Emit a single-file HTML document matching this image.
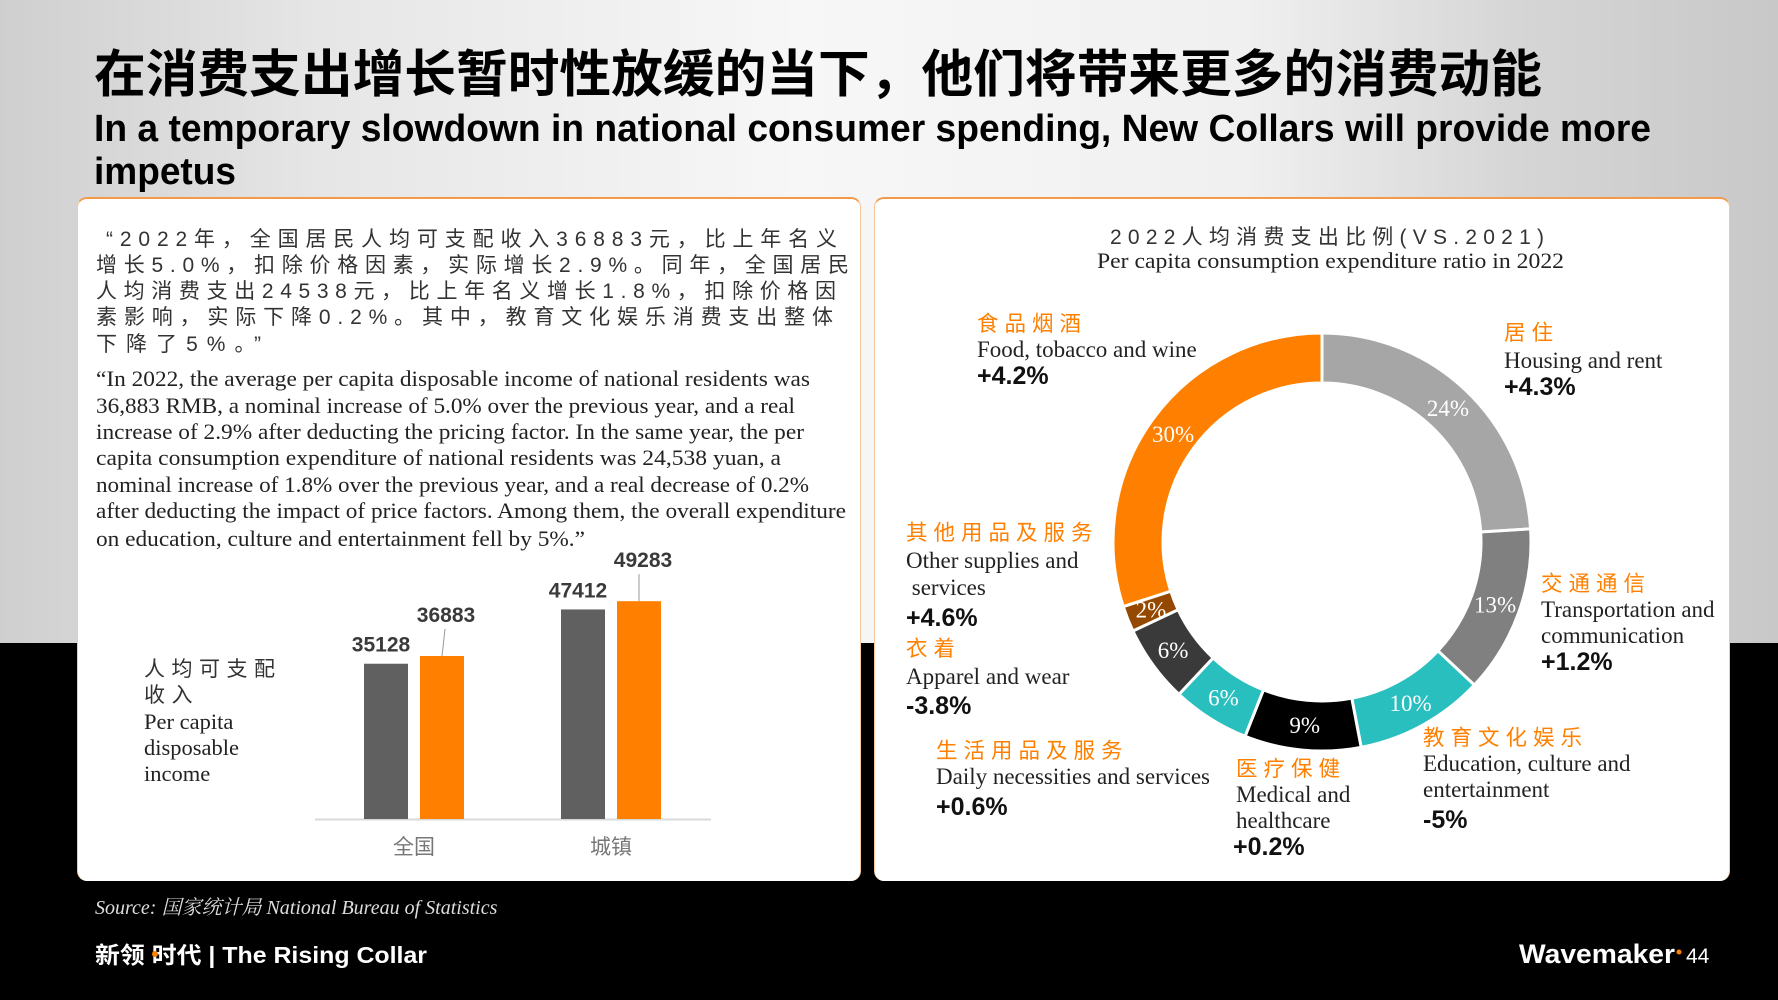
<!DOCTYPE html>
<html><head><meta charset="utf-8"><style>
*{margin:0;padding:0;box-sizing:border-box}
body{width:1778px;height:1000px;overflow:hidden;position:relative;background:#000;font-family:"Liberation Sans","Noto Sans CJK SC",sans-serif}
.abs{position:absolute;white-space:nowrap}
#bgtop{position:absolute;left:0;top:0;width:1778px;height:643px;background:linear-gradient(90deg,#cfcfcf 0%,#e6e6e6 18%,#f7f7f7 45%,#f0f0f0 70%,#d6d6d6 85%,#c8c8c8 100%)}
.card{position:absolute;background:#fff;border-radius:10px;border-top:2px solid #f39a4a;border-left:1px solid #f5c9a0;border-right:1px solid #f5c9a0}
.cn{font-family:"Liberation Sans","Noto Sans CJK SC",sans-serif}
.serif{font-family:"Liberation Serif","Noto Serif CJK SC",serif}
.or{color:#ff8000;font-size:21.5px;letter-spacing:6px}
.en{color:#222;font-size:23px}
.pct{color:#111;font-size:25px;font-weight:bold}
</style></head><body>
<div id="bgtop"></div>

<svg class="abs" style="left:0;top:0" width="1778" height="1000">
<text x="94" y="92" font-size="51" font-weight="bold" fill="#000" font-family="Liberation Sans, Noto Sans CJK SC, sans-serif" textLength="1448" lengthAdjust="spacingAndGlyphs">在消费支出增长暂时性放缓的当下，他们将带来更多的消费动能</text>
<g font-size="38" font-weight="bold" fill="#000" font-family="Liberation Sans, sans-serif">
<text x="94" y="141" textLength="1557" lengthAdjust="spacingAndGlyphs">In a temporary slowdown in national consumer spending, New Collars will provide more</text>
<text x="94" y="184" textLength="142" lengthAdjust="spacingAndGlyphs">impetus</text>
</g>
</svg>

<div class="card" style="left:77px;top:197px;width:784px;height:684px"></div>
<div class="card" style="left:874px;top:197px;width:856px;height:684px"></div>

<svg class="abs" style="left:0;top:0" width="1778" height="1000">
<g font-size="21" fill="#333" font-family="Liberation Sans, Noto Sans CJK SC, sans-serif">
<text x="106" y="246" textLength="731" lengthAdjust="spacing">“2022年，全国居民人均可支配收入36883元，比上年名义</text>
<text x="96" y="272" textLength="753" lengthAdjust="spacing">增长5.0%，扣除价格因素，实际增长2.9%。同年，全国居民</text>
<text x="96" y="298" textLength="740" lengthAdjust="spacing">人均消费支出24538元，比上年名义增长1.8%，扣除价格因</text>
<text x="96" y="324" textLength="737" lengthAdjust="spacing">素影响，实际下降0.2%。其中，教育文化娱乐消费支出整体</text>
<text x="96" y="351" textLength="165" lengthAdjust="spacing">下降了5%。”</text>
</g>
<g font-size="22.5" fill="#222" font-family="Liberation Serif, serif">
<text x="96" y="386" textLength="714" lengthAdjust="spacingAndGlyphs">“In 2022, the average per capita disposable income of national residents was</text>
<text x="96" y="413" textLength="699" lengthAdjust="spacingAndGlyphs">36,883 RMB, a nominal increase of 5.0% over the previous year, and a real</text>
<text x="96" y="439" textLength="708" lengthAdjust="spacingAndGlyphs">increase of 2.9% after deducting the pricing factor. In the same year, the per</text>
<text x="96" y="465" textLength="685" lengthAdjust="spacingAndGlyphs">capita consumption expenditure of national residents was 24,538 yuan, a</text>
<text x="96" y="492" textLength="713" lengthAdjust="spacingAndGlyphs">nominal increase of 1.8% over the previous year, and a real decrease of 0.2%</text>
<text x="96" y="518" textLength="750" lengthAdjust="spacingAndGlyphs">after deducting the impact of price factors. Among them, the overall expenditure</text>
<text x="96" y="546" textLength="489" lengthAdjust="spacingAndGlyphs">on education, culture and entertainment fell by 5%.”</text>
</g>
<text x="1110" y="244" font-size="21" fill="#333" font-family="Liberation Sans, Noto Sans CJK SC, sans-serif" textLength="434" lengthAdjust="spacing">2022人均消费支出比例(VS.2021)</text>
<text x="1097" y="268" font-size="22.5" fill="#222" font-family="Liberation Serif, serif" textLength="467" lengthAdjust="spacingAndGlyphs">Per capita consumption expenditure ratio in 2022</text>
<text x="95" y="914" font-size="20" font-style="italic" fill="#ddd" font-family="Liberation Serif, Noto Serif CJK SC, serif">Source: 国家统计局  National Bureau of Statistics</text>
<text x="95" y="963" font-size="23" font-weight="bold" fill="#fff" font-family="Liberation Sans, Noto Sans CJK SC, sans-serif" textLength="332" lengthAdjust="spacingAndGlyphs">新领 时代  | The Rising Collar</text>
<circle cx="155" cy="954" r="3" fill="#ff8000"/>
<text x="1519" y="963" font-size="27" font-weight="bold" fill="#fff" font-family="Liberation Sans, sans-serif" textLength="156" lengthAdjust="spacingAndGlyphs">Wavemaker</text>
<circle cx="1679" cy="952" r="2.5" fill="#ff8000"/>
<text x="1686" y="963" font-size="21" fill="#fff" font-family="Liberation Sans, sans-serif">44</text>
</svg>

<div class="abs" style="left:144px;top:657px;line-height:26px;white-space:normal;width:160px">
<div class="cn" style="font-size:21px;color:#333;letter-spacing:6.5px">人均可支配<br>收入</div>
<div class="serif" style="font-size:22.5px;color:#222">Per capita<br>disposable<br>income</div></div>

<svg id="bars" class="abs" style="left:0;top:0" width="1778" height="1000"></svg>
<svg id="donut" class="abs" style="left:0;top:0" width="1778" height="1000"></svg>

<div class="abs" style="left:977px;top:311px;line-height:26px"><div class="cn or">食品烟酒</div><div class="serif en">Food, tobacco and wine</div><div class="pct">+4.2%</div></div>
<div class="abs" style="left:1504px;top:320px;line-height:27px"><div class="cn or">居住</div><div class="serif en">Housing and rent</div><div class="pct">+4.3%</div></div>
<div class="abs" style="left:906px;top:520px;line-height:27px"><div class="cn or">其他用品及服务</div><div class="serif en">Other supplies and<br>&nbsp;services</div><div class="pct" style="margin-top:4px">+4.6%</div></div>
<div class="abs" style="left:906px;top:636px;line-height:27px"><div class="cn or">衣着</div><div class="serif en">Apparel and wear</div><div class="pct" style="margin-top:3px">-3.8%</div></div>
<div class="abs" style="left:1541px;top:571px;line-height:26px"><div class="cn or">交通通信</div><div class="serif en">Transportation and<br>communication</div><div class="pct">+1.2%</div></div>
<div class="abs" style="left:936px;top:738px;line-height:26px"><div class="cn or">生活用品及服务</div><div class="serif en">Daily necessities and services</div><div class="pct" style="margin-top:4px">+0.6%</div></div>
<div class="abs" style="left:1236px;top:756px;line-height:26px"><div class="cn or">医疗保健</div><div class="serif en">Medical and<br>healthcare</div><div class="pct" style="margin-left:-3px">+0.2%</div></div>
<div class="abs" style="left:1423px;top:725px;line-height:26px"><div class="cn or">教育文化娱乐</div><div class="serif en">Education, culture and<br>entertainment</div><div class="pct" style="margin-top:4px">-5%</div></div>

<script>
const NS='http://www.w3.org/2000/svg';
function mk(p,t,a){const e=document.createElementNS(NS,t);for(const k in a)e.setAttribute(k,a[k]);p.appendChild(e);return e;}
// Bar chart data
const barCategories=['全国','城镇'];
const seriesGray=[35128,47412];
const seriesOrange=[36883,49283];
const barSvg=document.getElementById('bars');
const base=819, yScale=v=>base-v*0.00442;
const groupX=[364,561];
const ax=mk(barSvg,'line',{x1:315,x2:711,y1:base+0.5,y2:base+0.5,stroke:'#d9d9d9','stroke-width':2});


barCategories.forEach((c,i)=>{
  const x=groupX[i];
  const g=mk(barSvg,'rect',{x:x,y:yScale(seriesGray[i]),width:44,height:base-yScale(seriesGray[i]),fill:'#606060'});
  
  
  const o=mk(barSvg,'rect',{x:x+56,y:yScale(seriesOrange[i]),width:44,height:base-yScale(seriesOrange[i]),fill:'#ff8000'});
  
  
  const t1=mk(barSvg,'text',{x:x+22-5,y:yScale(seriesGray[i])-12,'text-anchor':'middle','font-size':21,'font-weight':'bold',fill:'#3a3a3a','font-family':'Liberation Sans'});
  t1.textContent=seriesGray[i];
  
  
  const t2=mk(barSvg,'text',{x:x+78+4,y:yScale(seriesOrange[i])-34,'text-anchor':'middle','font-size':21,'font-weight':'bold',fill:'#3a3a3a','font-family':'Liberation Sans'});
  t2.textContent=seriesOrange[i];
  
  
  const l=mk(barSvg,'line',{x1:x+78+(i?0:3),y1:yScale(seriesOrange[i])-27,x2:x+78,y2:yScale(seriesOrange[i]),stroke:'#999','stroke-width':1});
  
  
  const ct=mk(barSvg,'text',{x:x+50,y:854,'text-anchor':'middle','font-size':21,fill:'#777','font-family':'Noto Sans CJK SC'});
  ct.textContent=c;
  
  
});
// Donut data
const donutCategories=['居住','交通通信','教育文化娱乐','医疗保健','生活用品及服务','衣着','其他用品及服务','食品烟酒'];
const donutValues=[24,13,10,9,6,6,2,30];
const donutLabels=['24%','13%','10%','9%','6%','6%','2%','30%'];
const donutColors=['#a6a6a6','#808080','#29bfbf','#000000','#29bfbf','#3a3a3a','#944800','#ff8000'];
const dSvg=document.getElementById('donut');
const cx=1322,cy=542,R=209,r=159;
const total=donutValues.reduce((a,b)=>a+b,0);
const pt=(rad,a)=>[cx+rad*Math.sin(a),cy-rad*Math.cos(a)];
let acc=0;
donutValues.forEach((v,i)=>{
  const a0=acc/total*2*Math.PI, a1=(acc+v)/total*2*Math.PI; acc+=v;
  const lg=(a1-a0)>Math.PI?1:0;
  const [x0,y0]=pt(R,a0),[x1,y1]=pt(R,a1),[x2,y2]=pt(r,a1),[x3,y3]=pt(r,a0);
  const p=mk(dSvg,'path',{d:`M${x0},${y0}A${R},${R} 0 ${lg} 1 ${x1},${y1}L${x2},${y2}A${r},${r} 0 ${lg} 0 ${x3},${y3}Z`,fill:donutColors[i],stroke:'#fff','stroke-width':3});
  
  
  const am=(a0+a1)/2;const [tx,ty]=pt((R+r)/2,am);
  const t=mk(dSvg,'text',{x:tx,y:ty+8,'text-anchor':'middle','font-size':23,fill:'#fff','font-family':'Liberation Serif'});
  t.textContent=donutLabels[i];
  
  
});
</script>
</body></html>
